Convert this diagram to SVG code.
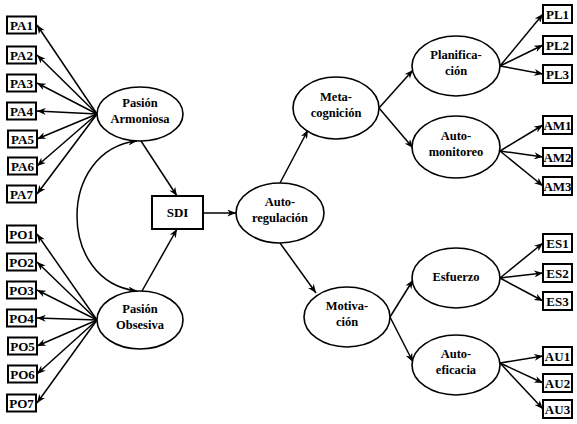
<svg xmlns="http://www.w3.org/2000/svg" width="577" height="424" viewBox="0 0 577 424">
<defs>
<style>
.bx{fill:#fff;stroke:#000;stroke-width:2}
.el{fill:#fff;stroke:#000;stroke-width:1.6}
.t{font-weight:bold;fill:#000;text-anchor:middle}
.bt{font-size:13px}
.et{font-size:12.5px}
.c{fill:none;stroke:#000;stroke-width:1.5;marker-end:url(#ah)}
.d{marker-start:url(#ah)}
</style>
<marker id="ah" viewBox="0 0 10 8" refX="10" refY="4" markerWidth="9" markerHeight="7" markerUnits="userSpaceOnUse" orient="auto-start-reverse">
<path d="M0,0 L10,4 L0,8 L3,4 z" fill="#000"/>
</marker>
</defs>
<rect width="577" height="424" fill="#fff"/>
<g id="connectors">
<path class="c" d="M97,114 L37,25"/>
<path class="c" d="M97,114 L37,55"/>
<path class="c" d="M97,114 L37,83"/>
<path class="c" d="M97,114 L37,111"/>
<path class="c" d="M97,114 L37,139"/>
<path class="c" d="M97,114 L37,166"/>
<path class="c" d="M97,114 L37,194"/>
<path class="c" d="M97,320 L37,234"/>
<path class="c" d="M97,320 L37,262"/>
<path class="c" d="M97,320 L37,290"/>
<path class="c" d="M97,320 L37,318"/>
<path class="c" d="M97,320 L37,346"/>
<path class="c" d="M97,320 L37,374"/>
<path class="c" d="M97,320 L37,403"/>
<path class="c d" d="M137,141 C57,150 57,282 137,291"/>
<path class="c" d="M141,141 L177,196"/>
<path class="c" d="M142,291 L177,229"/>
<path class="c" d="M203,213 L236,213"/>
<path class="c" d="M280,183 L308,130"/>
<path class="c" d="M280,243 L316,293"/>
<path class="c" d="M379,108 L413,70"/>
<path class="c" d="M379,108 L413,148"/>
<path class="c" d="M500,66 L543,14"/>
<path class="c" d="M500,66 L543,45"/>
<path class="c" d="M500,66 L543,74"/>
<path class="c" d="M500,151 L543,125"/>
<path class="c" d="M500,151 L543,157"/>
<path class="c" d="M500,151 L543,186"/>
<path class="c" d="M390,317 L413,280"/>
<path class="c" d="M390,317 L413,362"/>
<path class="c" d="M500,278 L543,243"/>
<path class="c" d="M500,278 L543,273"/>
<path class="c" d="M500,278 L543,301"/>
<path class="c" d="M500,363 L543,356"/>
<path class="c" d="M500,363 L543,383"/>
<path class="c" d="M500,363 L543,409"/>
</g>
<g font-family="Liberation Serif, Times New Roman, DejaVu Serif, serif">
<g id="PA1"><rect class="bx" x="7" y="16.5" width="29" height="17"/><text class="t bt" x="21.5" y="29.5">PA1</text></g>
<g id="PA2"><rect class="bx" x="7" y="46.5" width="29" height="17"/><text class="t bt" x="21.5" y="59.5">PA2</text></g>
<g id="PA3"><rect class="bx" x="7" y="74.5" width="29" height="17"/><text class="t bt" x="21.5" y="87.5">PA3</text></g>
<g id="PA4"><rect class="bx" x="7" y="102.5" width="29" height="17"/><text class="t bt" x="21.5" y="115.5">PA4</text></g>
<g id="PA5"><rect class="bx" x="8" y="130.5" width="29" height="17"/><text class="t bt" x="22.5" y="143.5">PA5</text></g>
<g id="PA6"><rect class="bx" x="8" y="157.5" width="29" height="17"/><text class="t bt" x="22.5" y="170.5">PA6</text></g>
<g id="PA7"><rect class="bx" x="7" y="185.5" width="29" height="17"/><text class="t bt" x="21.5" y="198.5">PA7</text></g>
<g id="PO1"><rect class="bx" x="7" y="225.5" width="29" height="17"/><text class="t bt" x="21.5" y="238.5">PO1</text></g>
<g id="PO2"><rect class="bx" x="7" y="253.5" width="29" height="17"/><text class="t bt" x="21.5" y="266.5">PO2</text></g>
<g id="PO3"><rect class="bx" x="7" y="281.5" width="29" height="17"/><text class="t bt" x="21.5" y="294.5">PO3</text></g>
<g id="PO4"><rect class="bx" x="7" y="309.5" width="29" height="17"/><text class="t bt" x="21.5" y="322.5">PO4</text></g>
<g id="PO5"><rect class="bx" x="8" y="337.5" width="29" height="17"/><text class="t bt" x="22.5" y="350.5">PO5</text></g>
<g id="PO6"><rect class="bx" x="8" y="365.5" width="29" height="17"/><text class="t bt" x="22.5" y="378.5">PO6</text></g>
<g id="PO7"><rect class="bx" x="7" y="394.5" width="29" height="17"/><text class="t bt" x="21.5" y="407.5">PO7</text></g>
<g id="PasionArmoniosa"><ellipse class="el" cx="140" cy="114" rx="43" ry="27"/><text class="t et" x="140" y="107">Pasión</text><text class="t et" x="140" y="123">Armoniosa</text></g>
<g id="PasionObsesiva"><ellipse class="el" cx="140" cy="320" rx="43" ry="29"/><text class="t et" x="140" y="313">Pasión</text><text class="t et" x="140" y="329">Obsesiva</text></g>
<g id="SDI"><rect class="bx" x="152" y="196" width="51" height="33"/><text class="t bt" x="177.5" y="217">SDI</text></g>
<g id="Autorregulacion"><ellipse class="el" cx="280" cy="213" rx="44" ry="30"/><text class="t et" x="280" y="206">Auto-</text><text class="t et" x="280" y="222">regulación</text></g>
<g id="Metacognicion"><ellipse class="el" cx="336" cy="108" rx="43" ry="31"/><text class="t et" x="336" y="101">Meta-</text><text class="t et" x="336" y="117">cognición</text></g>
<g id="Motivacion"><ellipse class="el" cx="347" cy="317" rx="43" ry="30"/><text class="t et" x="347" y="310">Motiva-</text><text class="t et" x="347" y="326">ción</text></g>
<g id="Planificacion"><ellipse class="el" cx="456" cy="66" rx="44" ry="30"/><text class="t et" x="456" y="59">Planifica-</text><text class="t et" x="456" y="75">ción</text></g>
<g id="Automonitoreo"><ellipse class="el" cx="456" cy="147" rx="44" ry="31"/><text class="t et" x="456" y="140">Auto-</text><text class="t et" x="456" y="156">monitoreo</text></g>
<g id="Esfuerzo"><ellipse class="el" cx="456" cy="278" rx="44" ry="30"/><text class="t et" x="456" y="281">Esfuerzo</text></g>
<g id="Autoeficacia"><ellipse class="el" cx="456" cy="365" rx="44" ry="30"/><text class="t et" x="456" y="358">Auto-</text><text class="t et" x="456" y="374">eficacia</text></g>
<g id="PL1"><rect class="bx" x="543" y="5" width="29" height="18"/><text class="t bt" x="557.5" y="18.5">PL1</text></g>
<g id="PL2"><rect class="bx" x="543" y="36" width="29" height="18"/><text class="t bt" x="557.5" y="49.5">PL2</text></g>
<g id="PL3"><rect class="bx" x="543" y="65" width="29" height="18"/><text class="t bt" x="557.5" y="78.5">PL3</text></g>
<g id="AM1"><rect class="bx" x="543" y="116" width="29" height="18"/><text class="t bt" x="557.5" y="129.5">AM1</text></g>
<g id="AM2"><rect class="bx" x="543" y="148" width="29" height="18"/><text class="t bt" x="557.5" y="161.5">AM2</text></g>
<g id="AM3"><rect class="bx" x="543" y="177" width="29" height="18"/><text class="t bt" x="557.5" y="190.5">AM3</text></g>
<g id="ES1"><rect class="bx" x="543" y="234" width="29" height="18"/><text class="t bt" x="557.5" y="247.5">ES1</text></g>
<g id="ES2"><rect class="bx" x="543" y="264" width="29" height="18"/><text class="t bt" x="557.5" y="277.5">ES2</text></g>
<g id="ES3"><rect class="bx" x="543" y="292" width="29" height="18"/><text class="t bt" x="557.5" y="305.5">ES3</text></g>
<g id="AU1"><rect class="bx" x="543" y="347" width="29" height="18"/><text class="t bt" x="557.5" y="360.5">AU1</text></g>
<g id="AU2"><rect class="bx" x="543" y="374" width="29" height="18"/><text class="t bt" x="557.5" y="387.5">AU2</text></g>
<g id="AU3"><rect class="bx" x="543" y="400" width="29" height="18"/><text class="t bt" x="557.5" y="413.5">AU3</text></g>
</g>
</svg>
